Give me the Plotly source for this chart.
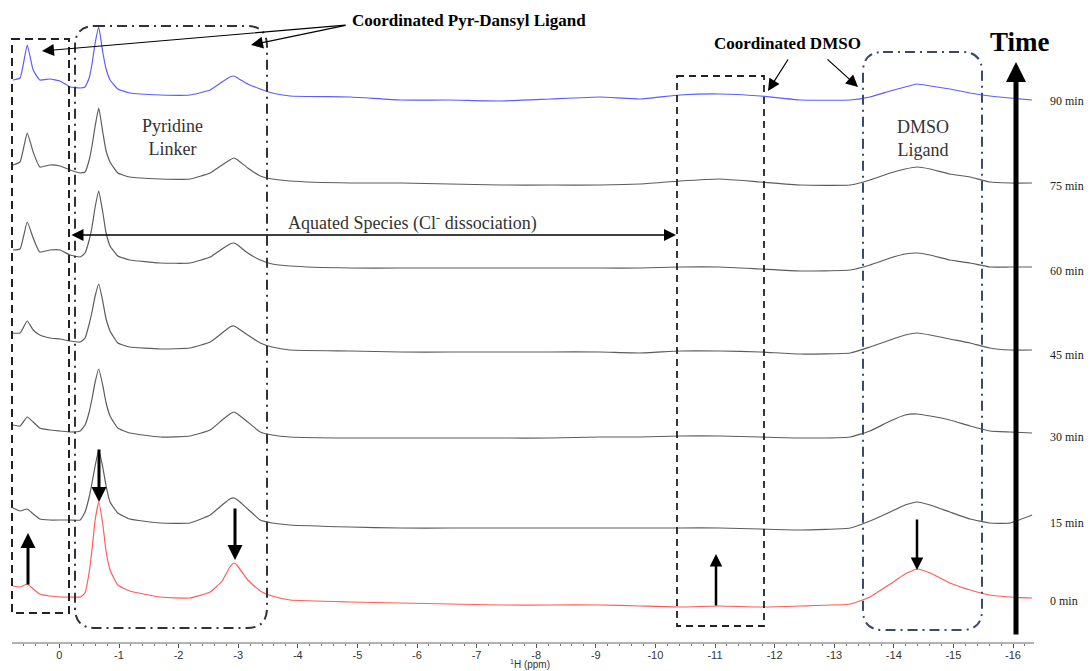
import plotly.graph_objects as go
import numpy as np

# ---------------- data ----------------
ppm = [0.78, 0.66, 0.54, 0.44, 0.33, 0.16, -0.01, -0.18, -0.35, -0.43,
       -0.50, -0.55, -0.60, -0.66, -0.73, -0.78, -0.85, -0.98, -1.18, -1.69,
       -2.19, -2.53, -2.73, -2.86, -2.93, -2.99, -3.16, -3.37, -3.57, -3.87,
       -4.88, -5.72, -6.55, -7.39, -8.23, -9.07, -9.74, -10.41, -11.08, -11.76,
       -12.43, -13.27, -13.60, -13.94, -14.19, -14.39, -14.61, -14.94, -15.28, -15.61,
       -15.95, -16.32]

time_labels = ["0 min", "15 min", "30 min", "45 min", "60 min", "75 min", "90 min"]

int_0 = [19, 18, 21, 16, 11, 9, 8, 8, 8, 12, 33, 57, 85, 103, 80, 55, 35, 20, 14, 8,
         7, 13, 24, 38, 42, 39, 25, 14, 9, 5, 3, 2, 1, 0, 0, 0, -1, -2, -1, -2,
         -1, 1, 8, 21, 31, 36, 32, 22, 15, 10, 8, 7]
int_15 = [20, 17, 19, 14, 9, 8, 8, 8, 8, 16, 31, 46, 62, 78, 60, 43, 26, 15, 9, 5,
          5, 13, 23, 29, 30, 28, 19, 8, 5, 3, 1, 0, 0, 0, 0, 0, 0, 0, 0, -1,
          -2, 0, 7, 16, 23, 26, 23, 16, 9, 5, 5, 13]
int_30 = [12, 11, 20, 15, 9, 7, 6, 5, 6, 12, 25, 39, 55, 68, 51, 35, 21, 9, 4, 0,
          1, 7, 17, 23, 25, 23, 15, 5, 2, 0, -1, -1, -1, -1, -1, 0, 0, 1, 1, 0,
          -1, 0, 6, 16, 22, 23, 21, 17, 11, 6, 5, 4]
int_45 = [18, 18, 30, 21, 16, 13, 12, 10, 9, 13, 27, 40, 55, 67, 49, 33, 20, 8, 4, 2,
          3, 9, 18, 24, 25, 23, 16, 8, 4, 1, 0, -1, -1, -1, -1, -1, -2, 0, 0, -1,
          -3, -2, 4, 11, 16, 18, 16, 12, 8, 3, 1, 1]
int_60 = [17, 18, 45, 29, 15, 17, 17, 12, 10, 14, 27, 41, 60, 76, 54, 35, 21, 11, 7, 4,
          4, 10, 18, 23, 24, 22, 14, 7, 3, 1, -1, -1, -1, -1, -1, -1, -1, 0, 0, -2,
          -4, -3, 2, 9, 13, 14, 12, 7, 4, 0, 0, 0]
int_75 = [18, 21, 50, 31, 16, 18, 17, 13, 10, 11, 23, 38, 57, 75, 50, 33, 21, 10, 6, 4,
          4, 10, 18, 23, 25, 23, 15, 7, 4, 2, 0, 0, -1, -2, -2, -2, -1, 2, 4, 1,
          -2, -2, 3, 10, 14, 16, 14, 9, 6, 1, 0, 0]
int_90 = [18, 20, 53, 28, 18, 19, 17, 11, 10, 11, 20, 35, 55, 71, 45, 30, 18, 9, 5, 3,
          3, 8, 16, 21, 22, 20, 14, 9, 5, 2, 1, -2, -2, -3, -1, 1, -1, 3, 4, 2,
          -2, -2, 1, 7, 11, 14, 12, 9, 5, 2, 0, -2]

tick_values = [0, -1, -2, -3, -4, -5, -6, -7, -8, -9, -10, -11, -12, -13, -14, -15, -16]
tick_labels = ["0", "-1", "-2", "-3", "-4", "-5", "-6", "-7", "-8", "-9", "-10",
               "-11", "-12", "-13", "-14", "-15", "-16"]

spectra = [int_0, int_15, int_30, int_45, int_60, int_75, int_90]

# ---------------- layout / style ----------------
W, H = 1090, 671
PLOT_H = 643
PX_PER_PPM = 59.6
PX_AT_ZERO = 59.4


def X(px):
    return -(px - PX_AT_ZERO) / PX_PER_PPM


def Y(py):
    return PLOT_H - py


baseline_px = [605, 528, 437, 351, 267, 183, 98]
label_px = [601, 523, 437, 355, 271, 186, 101]
colors = ["#ff5c5c", "#5c5c5c", "#5c5c5c", "#5c5c5c", "#5c5c5c", "#5c5c5c", "#5c5cff"]

SERIF = "Liberation Serif, Times New Roman, serif"
SANS = "Liberation Sans, Arial, sans-serif"

fig = go.Figure()
for name, vals, base, col in zip(time_labels, spectra, baseline_px, colors):
    fig.add_trace(go.Scatter(
        x=ppm, y=[Y(base) + v for v in vals], mode="lines", name=name,
        line=dict(color=col, width=1.2, shape="spline", smoothing=0.4),
        showlegend=False, hoverinfo="skip"))

shapes = []


def rrect(xl, yt, xr, yb, r):
    return (f"M {X(xl + r)},{Y(yt)} L {X(xr - r)},{Y(yt)} "
            f"Q {X(xr)},{Y(yt)} {X(xr)},{Y(yt + r)} L {X(xr)},{Y(yb - r)} "
            f"Q {X(xr)},{Y(yb)} {X(xr - r)},{Y(yb)} L {X(xl + r)},{Y(yb)} "
            f"Q {X(xl)},{Y(yb)} {X(xl)},{Y(yb - r)} L {X(xl)},{Y(yt + r)} "
            f"Q {X(xl)},{Y(yt)} {X(xl + r)},{Y(yt)} Z")


# axis line
shapes.append(dict(type="line", xref="x", yref="paper", x0=X(12), x1=X(1034), y0=0, y1=0,
                   line=dict(color="#666666", width=1)))
# left dashed box
shapes.append(dict(type="rect", xref="x", yref="y", x0=X(12), x1=X(69), y0=Y(39), y1=Y(613),
                   line=dict(color="#222222", width=2, dash="8px,5px")))
# coordinated DMSO dashed box
shapes.append(dict(type="rect", xref="x", yref="y", x0=X(677), x1=X(764), y0=Y(76), y1=Y(626),
                   line=dict(color="#222222", width=1.8, dash="7px,5px")))
# pyridine dash-dot rounded box
shapes.append(dict(type="path", xref="x", yref="y", path=rrect(75, 26, 267, 628, 20),
                   line=dict(color="#333333", width=2, dash="10px,5px,2px,5px")))
# DMSO ligand dash-dot rounded box
shapes.append(dict(type="path", xref="x", yref="y", path=rrect(863, 52, 982, 630, 20),
                   line=dict(color="#3a4a6a", width=2, dash="10px,5px,2px,5px")))

annotations = []


def arrow(tail, tip, w, size=1.0, head=2, side="end"):
    annotations.append(dict(
        x=X(tip[0]), y=Y(tip[1]), ax=X(tail[0]), ay=Y(tail[1]),
        xref="x", yref="y", axref="x", ayref="y", text="", showarrow=True,
        arrowhead=head, arrowsize=size, arrowwidth=w, arrowcolor="black",
        arrowside=side, startarrowhead=head, startarrowsize=size, standoff=0))


def text(px, py, s, size, bold=False, color="#222222", anchor="center", font=SERIF):
    annotations.append(dict(
        x=X(px), y=Y(py), xref="x", yref="y", text=(f"<b>{s}</b>" if bold else s),
        showarrow=False, xanchor=anchor, yanchor="middle",
        font=dict(family=font, size=size, color=color)))


arrow((347, 25), (42, 51), 1.2, size=2.0)
arrow((347, 25), (251, 45), 1.2, size=2.0)
arrow((789, 58), (768, 91), 1.2, size=2.0)
arrow((826, 58), (858, 87), 1.2, size=2.0)
arrow((70, 235), (676, 235), 1.5, size=1.6, side="end+start")
arrow((1016, 636), (1016, 62), 5, size=0.8)
arrow((28, 586), (28, 533), 3, size=1.0)
arrow((99, 448), (99, 502), 3, size=1.0)
arrow((235, 507), (235, 560), 3, size=1.0)
arrow((716, 607), (716, 554), 2.5, size=1.0)
arrow((917, 518), (917, 570), 2.5, size=1.0)

text(469, 20, "Coordinated Pyr-Dansyl Ligand", 17, bold=True, color="black")
text(787, 43, "Coordinated DMSO", 17, bold=True, color="black")
text(1020, 42, "Time", 27, bold=True, color="black")
text(172, 137, "Pyridine<br>Linker", 18, color="#333333")
text(923, 138, "DMSO<br>Ligand", 18, color="#333333")
text(412, 222, "Aquated Species (Cl<sup>-</sup> dissociation)", 18, color="#333333")
for lab, py in zip(time_labels, label_px):
    text(1048, py, lab, 12, color="#222222", anchor="left")

annotations.append(dict(x=X(530), y=-(664 - PLOT_H) / PLOT_H, xref="x", yref="paper",
                        text="<sup>1</sup>H (ppm)", showarrow=False, xanchor="center",
                        yanchor="middle", font=dict(family=SANS, size=10, color="#333333")))

minor_vals = [round(v, 1) for v in np.arange(0.6, -16.3, -0.2) if abs(v - round(v)) > 0.05]

fig.update_layout(
    width=W, height=H,
    margin=dict(l=0, r=0, t=0, b=H - PLOT_H),
    paper_bgcolor="white", plot_bgcolor="white",
    shapes=shapes, annotations=annotations,
    xaxis=dict(range=[X(0), X(W)], showgrid=False, zeroline=False, showline=False,
               tickmode="array", tickvals=tick_values, ticktext=tick_labels,
               ticks="outside", ticklen=4, tickwidth=1, tickcolor="#555555",
               ticklabelstandoff=-2,
               tickfont=dict(family=SANS, size=11, color="#333333"),
               minor=dict(tickmode="array", tickvals=minor_vals, ticks="outside",
                          ticklen=2, tickwidth=1, tickcolor="#777777")),
    yaxis=dict(range=[0, PLOT_H], visible=False, fixedrange=True),
)

fig.write_html("out.html", config={"displayModeBar": False},
               post_script="document.body.style.margin='0';document.body.style.overflow='hidden';")
